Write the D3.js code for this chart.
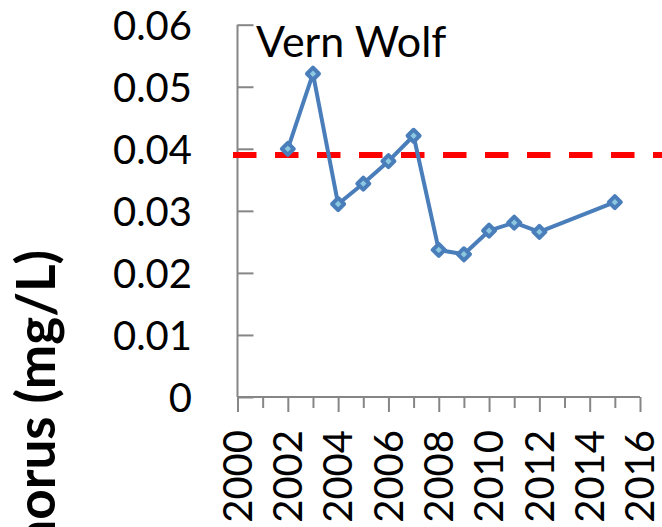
<!DOCTYPE html>
<html>
<head>
<meta charset="utf-8">
<script src="https://cdn.jsdelivr.net/npm/d3@7"></script>
<style>
  html, body { margin: 0; padding: 0; background: #fff; overflow: hidden; }
  svg { display: block; }
  text { font-family: Carlito, Calibri, Lato, "Open Sans", sans-serif; }
</style>
</head>
<body>
<svg id="chart" width="662" height="527"></svg>
<script>
// ---- data ----
const years = [2002, 2003, 2004, 2005, 2006, 2007, 2008, 2009, 2010, 2011, 2012, 2015];
const phosphorus = [0.0400, 0.0521, 0.0311, 0.0344, 0.0380, 0.0421, 0.0237, 0.0230, 0.0268, 0.0281, 0.0266, 0.0314];
const threshold = 0.039;
const yTicks = [0, 0.01, 0.02, 0.03, 0.04, 0.05, 0.06];
const xTickLabels = [2000, 2002, 2004, 2006, 2008, 2010, 2012, 2014, 2016];
const xMinorTicks = [2000, 2001, 2002, 2003, 2004, 2005, 2006, 2007, 2008, 2009, 2010, 2011, 2012, 2013, 2014, 2015, 2016];
const siteName = "Vern Wolf";
const yTitle = "Total Phosphorus (mg/L)";

// ---- layout ----
const svg = d3.select("#chart");
const x = d3.scaleLinear().domain([2000, 2016]).range([237.5, 640]);
const y = d3.scaleLinear().domain([0, 0.06]).range([397, 24.7]);
const axisColor = "#868686";
const fontMain = 40;

// y-axis with inward ticks
const yAxis = d3.axisLeft(y).tickValues(yTicks).tickSize(-16).tickFormat(d => d === 0 ? "0" : d3.format(".2f")(d));
const gy = svg.append("g").attr("transform", `translate(${x.range()[0]},0)`).call(yAxis);
gy.select(".domain").attr("stroke", axisColor).attr("stroke-width", 2).attr("d", `M0,${y(0)}V${y(0.06)}`);
gy.selectAll(".tick line").attr("stroke", axisColor).attr("stroke-width", 2);
gy.selectAll(".tick text")
  .attr("x", -45.5).attr("dy", "0.358em")
  .attr("font-size", fontMain).attr("fill", "#000")
  .style("font-family", "Lato, sans-serif");

// x-axis: minor (short) and major (long) ticks below
const gx = svg.append("g").attr("transform", `translate(0,${y(0)})`);
const xAxisMinor = d3.axisBottom(x).tickValues(xMinorTicks).tickSize(11).tickFormat("");
gx.call(xAxisMinor);
gx.select(".domain").attr("stroke", axisColor).attr("stroke-width", 2).attr("d", `M${x(2000)},0H${x(2016)}`);
gx.selectAll(".tick line").attr("stroke", axisColor).attr("stroke-width", 2)
  .attr("y2", d => (d % 2 === 0 ? 15 : 11));

const gxl = svg.append("g");
gxl.selectAll("text").data(xTickLabels).join("text")
  .attr("transform", d => `translate(${x(d)},430) rotate(-90)`)
  .attr("text-anchor", "end")
  .attr("dy", "0.358em")
  .attr("font-size", fontMain)
  .attr("fill", "#000")
  .style("font-family", "Lato, sans-serif")
  .text(d => d);

// threshold dashed line
svg.append("line")
  .attr("x1", 233).attr("x2", 662)
  .attr("y1", y(threshold)).attr("y2", y(threshold))
  .attr("stroke", "#ff0000").attr("stroke-width", 6)
  .attr("stroke-dasharray", "23.5 18.5");

// data line
const pts = years.map((yr, i) => [yr, phosphorus[i]]);
svg.append("path")
  .datum(pts)
  .attr("fill", "none")
  .attr("stroke", "#4a7ebb")
  .attr("stroke-width", 4)
  .attr("stroke-linejoin", "round")
  .attr("d", d3.line().x(d => x(d[0])).y(d => y(d[1])));

// diamond markers
const sym = d3.symbol().type(d3.symbolSquare).size(72);
svg.append("g").selectAll("path").data(pts).join("path")
  .attr("transform", d => `translate(${x(d[0])},${y(d[1])}) rotate(45)`)
  .attr("d", sym)
  .attr("fill", "#8cc8df")
  .attr("stroke", "#4a7ebb")
  .attr("stroke-width", 4)
  .attr("stroke-linejoin", "round");

// site title
svg.append("text")
  .attr("x", 256).attr("y", 57)
  .attr("font-size", 43)
  .attr("fill", "#000")
  .style("font-family", "Lato, sans-serif")
  .text(siteName);

// y-axis title (bold, rotated, clipped at bottom as in the reference)
svg.append("text")
  .attr("transform", "translate(55,250) rotate(-90)")
  .attr("text-anchor", "end")
  .attr("font-size", 53)
  .attr("font-weight", "bold")
  .attr("fill", "#000")
  .style("font-family", "Lato, sans-serif")
  .text(yTitle);
</script>
</body>
</html>
